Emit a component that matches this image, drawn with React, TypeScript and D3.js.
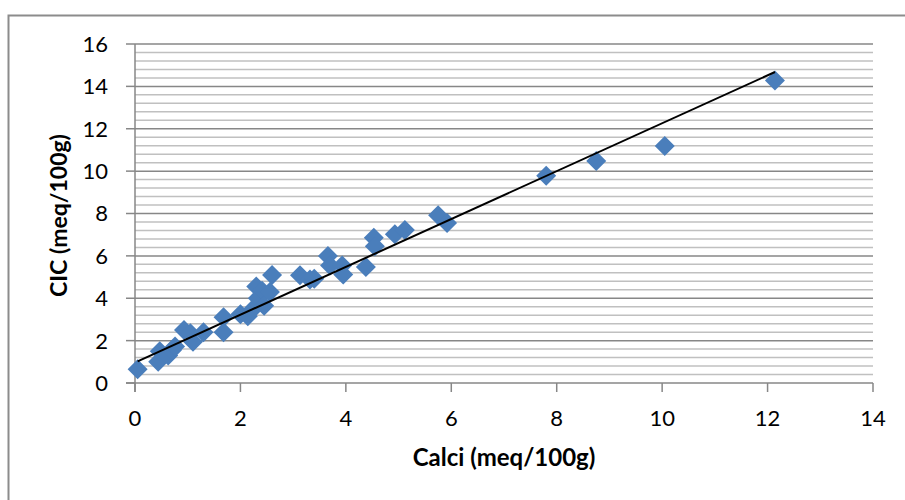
import React from "react";
import * as d3 from "d3";

const calci = [0.05, 0.44, 0.47, 0.63, 0.7, 0.76, 0.93, 1.05, 1.1, 1.3, 1.68, 1.68, 2.0, 2.14, 2.22, 2.3, 2.33, 2.41, 2.45, 2.56, 2.6, 3.13, 3.32, 3.4, 3.66, 3.7, 3.93, 3.95, 4.38, 4.53, 4.55, 4.93, 5.12, 5.75, 5.92, 7.8, 8.75, 10.05, 12.14];
const cic = [0.65, 1.0, 1.5, 1.3, 1.55, 1.72, 2.5, 2.35, 1.95, 2.4, 3.1, 2.4, 3.25, 3.15, 3.45, 4.55, 4.0, 4.35, 3.65, 4.3, 5.1, 5.08, 4.88, 4.92, 6.0, 5.55, 5.55, 5.12, 5.48, 6.85, 6.45, 7.02, 7.22, 7.92, 7.55, 9.78, 10.48, 11.18, 14.28];
const trendSlope = 1.13;
const trendIntercept = 0.96;
const xTicks = [0, 2, 4, 6, 8, 10, 12, 14];
const yTicks = [0, 2, 4, 6, 8, 10, 12, 14, 16];
const xTitle = "Calci (meq/100g)";
const yTitle = "CIC (meq/100g)";

export default function App() {
  const left = 135, right = 873, top = 44, bottom = 383;
  const x = d3.scaleLinear().domain([0, 14]).range([left, right]);
  const y = d3.scaleLinear().domain([0, 16]).range([bottom, top]);
  const minor = d3.range(1, 40).map((i) => i * 0.4).filter((v) => Math.abs(v / 2 - Math.round(v / 2)) > 1e-6);
  const xMin = d3.min(calci) as number;
  const xMax = d3.max(calci) as number;
  const font = "Lato, 'Open Sans', sans-serif";
  const r = 10;
  const diamond = (cx: number, cy: number) => `M${cx},${cy - r}L${cx + r},${cy}L${cx},${cy + r}L${cx - r},${cy}Z`;
  return (
    <svg width={905} height={500} style={{ position: "fixed", left: 0, top: 0 }}>
      <rect x={0} y={0} width={905} height={500} fill="#fff" />
      <rect x={8.5} y={15.5} width={1000} height={600} fill="none" stroke="#8c8c8c" strokeWidth={2} />
      {minor.map((v) => (
        <line key={"m" + v} x1={left} x2={right} y1={y(v)} y2={y(v)} stroke="#c0c0c0" strokeWidth={1.5} />
      ))}
      {yTicks.filter((v) => v > 0).map((v) => (
        <line key={"g" + v} x1={left} x2={right} y1={y(v)} y2={y(v)} stroke="#878787" strokeWidth={1.5} />
      ))}
      <line x1={left} x2={left} y1={top} y2={bottom + 9} stroke="#878787" strokeWidth={1.5} />
      <line x1={left - 9} x2={right} y1={bottom} y2={bottom} stroke="#878787" strokeWidth={1.5} />
      {yTicks.map((v) => (
        <g key={"yt" + v}>
          <line x1={left - 9} x2={left} y1={y(v)} y2={y(v)} stroke="#878787" strokeWidth={1.5} />
          <text x={108} y={y(v)} dy="0.36em" textAnchor="end" fontFamily={font} fontSize={22} fill="#000">{v}</text>
        </g>
      ))}
      {xTicks.map((v) => (
        <g key={"xt" + v}>
          <line x1={x(v)} x2={x(v)} y1={bottom} y2={bottom + 9} stroke="#878787" strokeWidth={1.5} />
          <text x={x(v)} y={426} textAnchor="middle" fontFamily={font} fontSize={22} fill="#000">{v}</text>
        </g>
      ))}
      {calci.map((v, i) => (
        <path key={"p" + i} d={diamond(x(v), y(cic[i]))} fill="#4a7ebb" />
      ))}
      <line x1={x(xMin)} y1={y(trendSlope * xMin + trendIntercept)} x2={x(xMax)} y2={y(trendSlope * xMax + trendIntercept)} stroke="#000" strokeWidth={2} />
      <text x={(left + right) / 2} y={466} textAnchor="middle" fontFamily={font} fontWeight="bold" fontSize={24} fill="#000">{xTitle}</text>
      <text transform={`translate(67,${(top + bottom) / 2 + 2}) rotate(-90)`} textAnchor="middle" fontFamily={font} fontWeight="bold" fontSize={23} fill="#000">{yTitle}</text>
    </svg>
  );
}
